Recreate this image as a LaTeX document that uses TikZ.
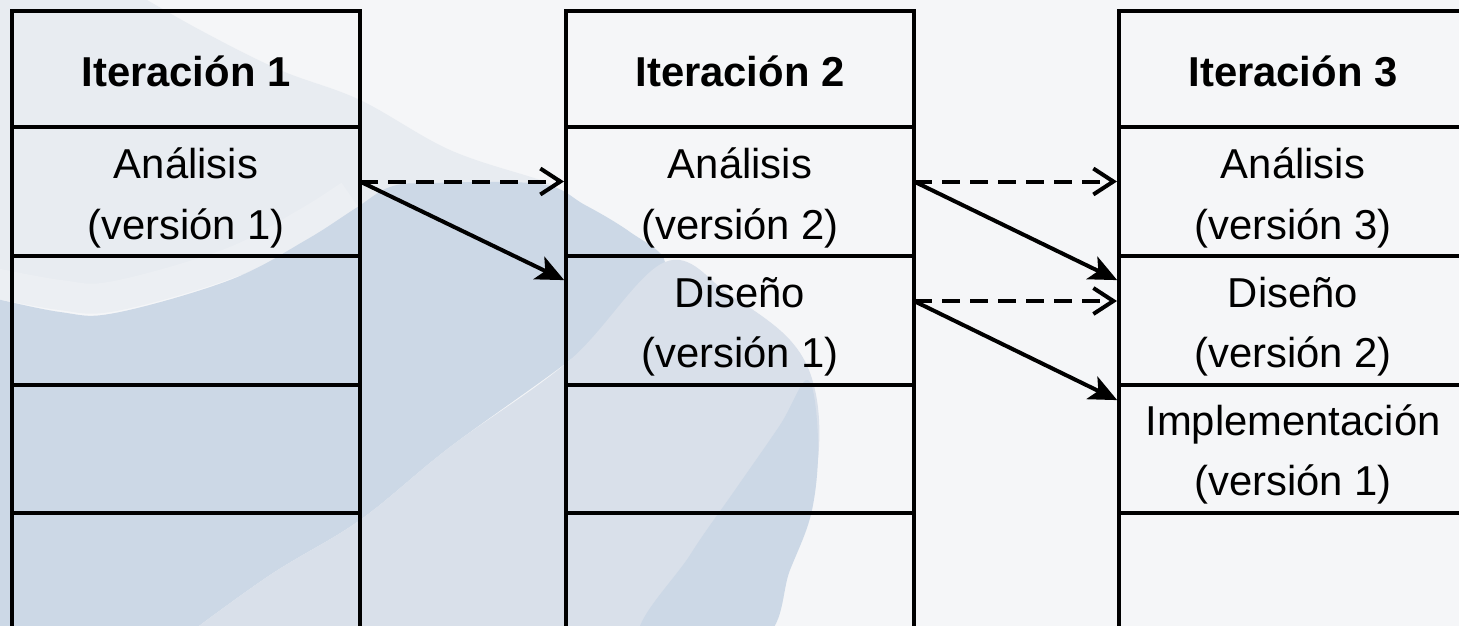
\documentclass[tikz,border=0pt]{standalone}
\usepackage{fontspec}
\setmainfont{Liberation Sans}
\usetikzlibrary{arrows.meta,calc}
\definecolor{bgc}{HTML}{F5F6F8}
\definecolor{tintc}{HTML}{E8ECF1}
\definecolor{lightc}{HTML}{ECEFF3}
\definecolor{bluec}{HTML}{CCD8E6}
\definecolor{midc}{HTML}{D9E0EA}
\begin{document}
\begin{tikzpicture}[x=1pt,y=-1pt,
  cell/.style={draw=black, line width=4.5pt, minimum width=348pt, inner sep=0pt, outer sep=0pt},
  lbl/.style={font=\fontsize{41.8}{50}\selectfont, anchor=base, inner sep=0pt},
  ttl/.style={font=\fontsize{41.8}{50}\selectfont\bfseries, anchor=base, inner sep=0pt},
  solidarr/.style={line width=4pt, shorten >=2pt, -{Stealth[length=28pt,width=25pt,inset=7pt]}},
  dasharr/.style={line width=4pt, dash pattern=on 18pt off 10pt, shorten >=2pt, -{Straight Barb[length=20pt,width=26pt]}}
]
\clip (0,0) rectangle (1459,626);
% background
\fill[bgc] (0,0) rectangle (1459,626);
\fill[tintc] plot[smooth, tension=0.6] coordinates {(130,-10) (200,30) (280,70) (360,100) (450,150) (540,180) (560,190)} -- (400,260) -- (-20,300) -- (-20,-10) -- cycle;
\draw[lightc, line width=30pt] plot[smooth, tension=0.6] coordinates {(-20,280) (60,295) (115,296) (230,263) (306,223) (350,195)};
\fill[bluec] plot[smooth, tension=0.6] coordinates {(-20,295) (60,312) (115,313) (230,280) (306,240) (356,208) (390,187) (430,183) (540,184) (585,205) (630,232) (665,262) (640,300) (570,360) (450,447) (360,520) (270,575) (180,640)} -- (-20,640) -- cycle;
\fill[midc] plot[smooth, tension=0.6] coordinates {(180,640) (270,575) (360,520) (450,447) (570,360) (665,262) (730,295) (790,340) (815,390) (818,460) (800,540) (770,600) (755,640)} -- cycle;
\fill[bluec] plot[smooth cycle, tension=0.6] coordinates {(808,380) (818,440) (812,510) (790,570) (760,640) (640,640) (690,555) (735,490) (780,425)};
% cells
\foreach \c/\x in {1/186,2/740,3/1293}{
  \node[cell, minimum height=116pt] (c\c1) at (\x,69) {};
  \node[cell, minimum height=129pt] (c\c2) at (\x,191.5) {};
  \node[cell, minimum height=129pt] (c\c3) at (\x,320.5) {};
  \node[cell, minimum height=128pt] (c\c4) at (\x,449) {};
  \node[cell, minimum height=127pt] (c\c5) at (\x,576.5) {};
}
% arrows
\draw[dasharr] ([yshift=10pt]c12.east) -- ([yshift=10pt]c22.west);
\draw[solidarr] ([yshift=10pt]c12.east) -- ([yshift=39.5pt]c23.west);
\draw[dasharr] ([yshift=10pt]c22.east) -- ([yshift=10pt]c32.west);
\draw[solidarr] ([yshift=10pt]c22.east) -- ([yshift=39.5pt]c33.west);
\draw[dasharr] ([yshift=19.5pt]c23.east) -- ([yshift=19.5pt]c33.west);
\draw[solidarr] ([yshift=19.5pt]c23.east) -- ([yshift=48pt]c34.west);
% texts
\node[ttl] (t1) at ([yshift=-75pt]c11.north) {Iteración 1};
\node[ttl] (t2) at ([yshift=-75pt]c21.north) {Iteración 2};
\node[ttl] (t3) at ([yshift=-75pt]c31.north) {Iteración 3};
\node[lbl] (a1a) at ([yshift=-51pt]c12.north) {Análisis};
\node[lbl] (a1b) at ([yshift=-112pt]c12.north) {(versión 1)};
\node[lbl] (a2a) at ([yshift=-51pt]c22.north) {Análisis};
\node[lbl] (a2b) at ([yshift=-112pt]c22.north) {(versión 2)};
\node[lbl] (a3a) at ([yshift=-51pt]c32.north) {Análisis};
\node[lbl] (a3b) at ([yshift=-112pt]c32.north) {(versión 3)};
\node[lbl] (d2a) at ([yshift=-51pt]c23.north) {Diseño};
\node[lbl] (d2b) at ([yshift=-111pt]c23.north) {(versión 1)};
\node[lbl] (d3a) at ([yshift=-51pt]c33.north) {Diseño};
\node[lbl] (d3b) at ([yshift=-111pt]c33.north) {(versión 2)};
\node[lbl] (i3a) at ([yshift=-50pt]c34.north) {Implementación};
\node[lbl] (i3b) at ([yshift=-110pt]c34.north) {(versión 1)};
\end{tikzpicture}
\end{document}
